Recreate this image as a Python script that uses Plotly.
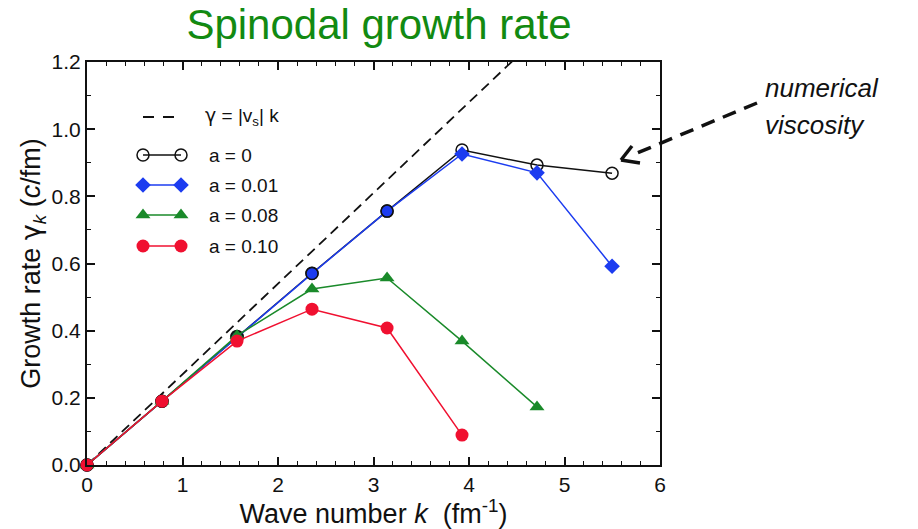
import plotly.graph_objects as go

# Spinodal growth rate vs wave number for several smoothing parameters a
k_all = [0.0, 0.785, 1.571, 2.356, 3.142, 3.927, 4.712, 5.498]

gamma_a000 = [0.0, 0.190, 0.383, 0.571, 0.756, 0.938, 0.893, 0.869]
gamma_a001 = [0.0, 0.190, 0.380, 0.570, 0.756, 0.926, 0.870, 0.592]
gamma_a008 = [0.0, 0.190, 0.385, 0.524, 0.557, 0.369, 0.173]
gamma_a010 = [0.0, 0.190, 0.369, 0.464, 0.408, 0.089]

k_a000 = k_all
k_a001 = k_all
k_a008 = k_all[:7]
k_a010 = k_all[:6]

vs_abs = 0.27            # |v_s| (c), slope of the sound-speed line
k_line = [0.0, 6.0]

GAMMA = '<span style="font-family:DejaVu Sans">γ</span>'
legend_labels = [f"{GAMMA} = |v<sub>s</sub>| k", "a = 0", "a = 0.01", "a = 0.08", "a = 0.10"]

BLACK = "#111111"
BLUE = "#1c3cf0"
GREEN = "#1a8a2a"
RED = "#f01030"
TITLE_GREEN = "#128a12"
FONT = "Liberation Sans, Arial, Helvetica, sans-serif"

# plot-area geometry in pixels (used to place decorations in paper coords)
W, H = 918, 529
L, R, T, B = 87, 258, 62, 64
PW, PH = W - L - R, H - T - B


def px(xp, yp):
    return (xp - L) / PW, (H - B - yp) / PH


fig = go.Figure()

# sound-speed line
fig.add_trace(go.Scatter(
    x=k_line, y=[vs_abs * v for v in k_line], mode="lines",
    line=dict(color=BLACK, width=1.8, dash="10px,6px"), showlegend=False,
))

# a = 0
fig.add_trace(go.Scatter(
    x=k_a000, y=gamma_a000, mode="lines+markers", cliponaxis=False,
    line=dict(color=BLACK, width=1.5),
    marker=dict(symbol="circle-open", size=12, color=BLACK, line=dict(width=1.5)),
    showlegend=False,
))

# a = 0.01
sym_001 = ["circle" if kk < 3.5 else "diamond" for kk in k_a001]
lc_001 = [BLACK if kk < 3.5 else BLUE for kk in k_a001]
lw_001 = [1.5 if kk < 3.5 else 0 for kk in k_a001]
fig.add_trace(go.Scatter(
    x=k_a001, y=gamma_a001, mode="lines+markers", cliponaxis=False,
    line=dict(color=BLUE, width=1.5),
    marker=dict(symbol=sym_001, size=12, color=BLUE, line=dict(color=lc_001, width=lw_001)),
    showlegend=False,
))

# a = 0.08
fig.add_trace(go.Scatter(
    x=k_a008, y=gamma_a008, mode="lines+markers", cliponaxis=False,
    line=dict(color=GREEN, width=1.5),
    marker=dict(symbol="triangle-up", size=13, color=GREEN, line=dict(width=0)),
    showlegend=False,
))

# a = 0.10
fig.add_trace(go.Scatter(
    x=k_a010, y=gamma_a010, mode="lines+markers", cliponaxis=False,
    line=dict(color=RED, width=1.5),
    marker=dict(symbol="circle", size=13, color=RED, line=dict(width=0)),
    showlegend=False,
))

# ---- hand-drawn legend (in plot-fraction coordinates on an overlay axis) ----
gx0, _ = px(143, 0)
gx1, _ = px(181, 0)
tx, _ = px(207, 0)
row_y = [px(0, yp)[1] for yp in (117, 155, 185, 215, 246)]

shapes = []
shapes.append(dict(type="line", xref="paper", yref="paper", x0=gx0, x1=px(178, 0)[0],
                   y0=row_y[0], y1=row_y[0],
                   line=dict(color=BLACK, width=1.8, dash="11px,9px")))
styles = [
    (BLACK, "circle-open", 12),
    (BLUE, "diamond", 12),
    (GREEN, "triangle-up", 13),
    (RED, "circle", 13),
]
for (col, sym, sz), yy in zip(styles, row_y[1:]):
    shapes.append(dict(type="line", xref="paper", yref="paper", x0=gx0, x1=gx1,
                       y0=yy, y1=yy, line=dict(color=col, width=1.5)))
    fig.add_trace(go.Scatter(
        x=[gx0, gx1], y=[yy, yy], xaxis="x2", yaxis="y2", mode="markers",
        cliponaxis=False,
        marker=dict(symbol=sym, size=sz, color=col,
                    line=dict(width=1.5 if sym.endswith("open") else 0)),
        showlegend=False, hoverinfo="skip",
    ))

annotations = []
for i, (lab, yy) in enumerate(zip(legend_labels, row_y)):
    annotations.append(dict(
        xref="paper", yref="paper", x=tx - (0.007 if i == 0 else 0), y=yy,
        text=lab, showarrow=False, xanchor="left", yanchor="middle",
        font=dict(family=FONT, size=19, color=BLACK),
    ))

# ---- "numerical viscosity" note with dashed arrow ----
for text, yp in (("numerical", 88), ("viscosity", 125)):
    ax_, ay_ = px(763, yp)
    annotations.append(dict(
        xref="paper", yref="paper", x=ax_, y=ay_, text=f"<i>{text}</i>",
        showarrow=False, xanchor="left", yanchor="middle",
        font=dict(family=FONT, size=26, color=BLACK),
    ))

tail = px(757, 103)
neck = px(630, 156)
tip = px(621, 160)
arm1 = px(640, 163)
arm2 = px(632, 146)
shapes.append(dict(type="line", xref="paper", yref="paper", x0=tail[0], y0=tail[1],
                   x1=neck[0], y1=neck[1], line=dict(color=BLACK, width=3.5, dash="14px,9px")))
for arm in (arm1, arm2):
    shapes.append(dict(type="line", xref="paper", yref="paper", x0=tip[0], y0=tip[1],
                       x1=arm[0], y1=arm[1], line=dict(color=BLACK, width=3.5)))

axis_common = dict(
    showline=True, linecolor=BLACK, linewidth=2, mirror="ticks",
    ticks="inside", ticklen=8, tickwidth=1.5, tickcolor=BLACK,
    showgrid=False, zeroline=False,
    tickfont=dict(family=FONT, size=21, color=BLACK),
)

fig.update_layout(
    width=W, height=H,
    margin=dict(l=L, r=R, t=T, b=B),
    paper_bgcolor="white", plot_bgcolor="white",
    title=dict(text="Spinodal growth rate", x=379 / W, xanchor="center",
               y=1 - 24 / H, yanchor="middle",
               font=dict(family=FONT, size=42, color=TITLE_GREEN)),
    xaxis=dict(range=[0, 6], dtick=1, tick0=0,
               minor=dict(dtick=0.2, ticks="inside", ticklen=4, tickcolor=BLACK, tickwidth=1.2),
               title=dict(text="Wave number <i>k</i>  (fm<sup>-1</sup>)", standoff=3,
                          font=dict(family=FONT, size=27, color=BLACK)),
               **axis_common),
    yaxis=dict(range=[0, 1.2], dtick=0.2, tick0=0, tickformat=".1f",
               minor=dict(dtick=0.1, ticks="inside", ticklen=4, tickcolor=BLACK, tickwidth=1.2),
               title=dict(text=f"Growth rate {GAMMA}<sub><i>k</i></sub> (<i>c</i>/fm)", standoff=3,
                          font=dict(family=FONT, size=27, color=BLACK)),
               **axis_common),
    xaxis2=dict(range=[0, 1], overlaying="x", visible=False),
    yaxis2=dict(range=[0, 1], overlaying="y", visible=False),
    shapes=shapes,
    annotations=annotations,
)

fig.write_html("out.html")
